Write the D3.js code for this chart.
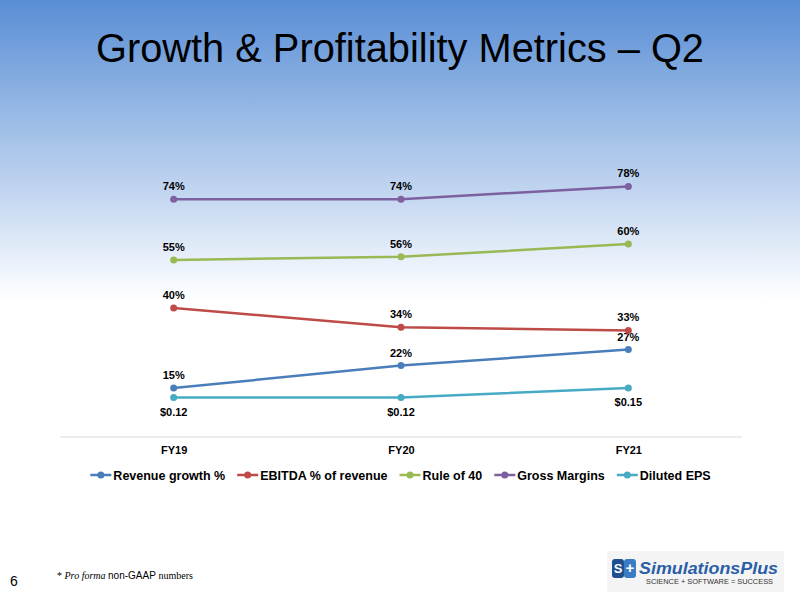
<!DOCTYPE html>
<html>
<head>
<meta charset="utf-8">
<script src="https://cdn.jsdelivr.net/npm/d3@7"></script>
<style>
  html, body { margin: 0; padding: 0; background: #fff; }
  svg { display: block; font-family: "Liberation Sans", Arial, sans-serif; }
</style>
</head>
<body>
<svg id="chart" width="800" height="599"></svg>
<script>
// Chart data
const categories = ['FY19', 'FY20', 'FY21'];
const revenueGrowth = [0.15, 0.22, 0.27];
const ebitdaMargin = [0.40, 0.34, 0.33];
const ruleOf40 = [0.55, 0.56, 0.60];
const grossMargins = [0.74, 0.74, 0.78];
const dilutedEps = [0.12, 0.12, 0.15];

const seriesNames = ['Revenue growth %', 'EBITDA % of revenue', 'Rule of 40', 'Gross Margins', 'Diluted EPS'];
const seriesValues = [revenueGrowth, ebitdaMargin, ruleOf40, grossMargins, dilutedEps];
const seriesColors = ['#4a7ebb', '#be4b48', '#98b954', '#7d60a0', '#46aac5'];
const labelBelow = [false, false, false, false, true];

const pct = d3.format('.0%');
const usd = d3.format('$.2f');

const svg = d3.select('#chart');
const width = 800, height = 599;

// Slide background gradient
const defs = svg.append('defs');
const grad = defs.append('linearGradient')
    .attr('id', 'bg').attr('x1', 0).attr('y1', 0).attr('x2', 0).attr('y2', 1);
[[0, '#598dd5'], [0.2, '#9bbce6'], [0.334, '#c6d8f1'], [0.434, '#e9f0fa'], [0.5, '#ffffff'], [1, '#ffffff']]
    .forEach(s => grad.append('stop').attr('offset', s[0]).attr('stop-color', s[1]));

svg.append('rect').attr('width', width).attr('height', height).attr('fill', 'url(#bg)');

// Title
svg.append('text')
    .attr('x', 400).attr('y', 62)
    .attr('text-anchor', 'middle')
    .attr('font-size', 40)
    .attr('fill', '#000')
    .attr('textLength', 608)
    .attr('lengthAdjust', 'spacingAndGlyphs')
    .text('Growth & Profitability Metrics \u2013 Q2');

// Scales
const x = d3.scalePoint().domain(categories).range([60, 742]).padding(0.5);
const y = d3.scaleLinear().domain([0, 1]).range([436, 116]);

// Category axis
const axis = svg.append('g')
    .attr('transform', 'translate(0,437)')
    .call(d3.axisBottom(x).tickSize(0).tickPadding(9));
axis.select('.domain').attr('stroke', '#d9d9d9').attr('stroke-width', 1.2)
    .attr('d', 'M60,0H742');
axis.selectAll('text')
    .attr('font-family', '"Liberation Sans", Arial, sans-serif')
    .attr('font-size', 11).attr('font-weight', 'bold').attr('fill', '#000');

// Lines, markers and labels
const line = d3.line().x((d, i) => x(categories[i])).y(d => y(d));

seriesValues.forEach((vals, k) => {
    const g = svg.append('g');
    g.append('path')
        .datum(vals)
        .attr('d', line)
        .attr('fill', 'none')
        .attr('stroke', seriesColors[k])
        .attr('stroke-width', 2.5);
    g.selectAll('circle')
        .data(vals)
        .join('circle')
        .attr('cx', (d, i) => x(categories[i]))
        .attr('cy', d => y(d))
        .attr('r', 3.5)
        .attr('fill', seriesColors[k]);
    g.selectAll('text')
        .data(vals)
        .join('text')
        .attr('x', (d, i) => x(categories[i]))
        .attr('y', d => labelBelow[k] ? y(d) + 18 : y(d) - 9)
        .attr('text-anchor', 'middle')
        .attr('font-size', 11)
        .attr('font-weight', 'bold')
        .attr('fill', '#000')
        .text(d => k === 4 ? usd(d) : pct(d));
});

// Legend
const legend = svg.append('g');
let lx = 0;
seriesNames.forEach((name, k) => {
    const item = legend.append('g').attr('transform', `translate(${lx},0)`);
    item.append('line')
        .attr('x1', 0).attr('x2', 21).attr('y1', 0).attr('y2', 0)
        .attr('stroke', seriesColors[k]).attr('stroke-width', 2.5);
    item.append('circle').attr('cx', 10.5).attr('cy', 0).attr('r', 3.5).attr('fill', seriesColors[k]);
    const t = item.append('text')
        .attr('x', 23).attr('y', 4.5)
        .attr('font-size', 12.5).attr('font-weight', 'bold').attr('fill', '#000')
        .text(name);
    lx += 23 + t.node().getComputedTextLength() + 12;
});
const legendWidth = lx - 12;
legend.attr('transform', `translate(${400.5 - legendWidth / 2},475)`);

// Footnote
const foot = svg.append('text').attr('x', 57).attr('y', 579).attr('font-size', 10).attr('fill', '#000');
foot.append('tspan').attr('font-family', '"Liberation Serif", "Times New Roman", serif').text('* ');
foot.append('tspan').attr('font-family', '"Liberation Serif", "Times New Roman", serif').attr('font-style', 'italic').text('Pro forma ');
foot.append('tspan').attr('font-family', '"Liberation Sans", Arial, sans-serif').text('non-GAAP ');
foot.append('tspan').attr('font-family', '"Liberation Serif", "Times New Roman", serif').text('numbers');

// Page number
svg.append('text').attr('x', 10).attr('y', 586).attr('font-size', 14).attr('fill', '#000').text('6');

// Logo
const logo = svg.append('g');
logo.append('rect').attr('x', 607).attr('y', 551).attr('width', 177).attr('height', 41).attr('fill', '#f4f4f4');
logo.append('rect').attr('x', 612).attr('y', 559).attr('width', 12).attr('height', 19).attr('rx', 3).attr('fill', '#1f4f8f');
logo.append('rect').attr('x', 624).attr('y', 559).attr('width', 12).attr('height', 19).attr('rx', 3).attr('fill', '#3a7cc4');
logo.append('text').attr('x', 618).attr('y', 573).attr('text-anchor', 'middle')
    .attr('font-size', 13).attr('font-weight', 'bold').attr('fill', '#fff').text('S');
logo.append('text').attr('x', 630).attr('y', 573).attr('text-anchor', 'middle')
    .attr('font-size', 15).attr('font-weight', 'bold').attr('fill', '#fff').text('+');
logo.append('text').attr('x', 639).attr('y', 574)
    .attr('font-size', 16).attr('font-weight', 'bold').attr('font-style', 'italic').attr('fill', '#2a5ea6')
    .attr('textLength', 139).attr('lengthAdjust', 'spacingAndGlyphs')
    .text('SimulationsPlus');
logo.append('text').attr('x', 646).attr('y', 584)
    .attr('font-size', 7).attr('fill', '#333')
    .attr('textLength', 127).attr('lengthAdjust', 'spacingAndGlyphs')
    .text('SCIENCE + SOFTWARE = SUCCESS');
</script>
</body>
</html>
